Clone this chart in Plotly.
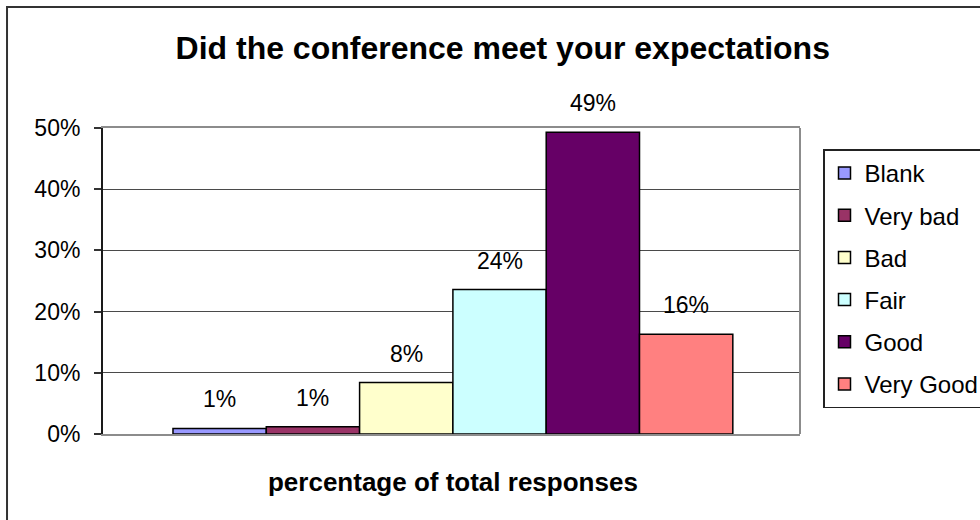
import plotly.graph_objects as go

# Survey results: share of total responses per rating
ratings = ["Blank", "Very bad", "Bad", "Fair", "Good", "Very Good"]
shares = [0.009, 0.012, 0.084, 0.236, 0.493, 0.163]
colors = ["#9999FF", "#993366", "#FFFFCC", "#CCFFFF", "#660066", "#FF8080"]
category = "percentage of total responses"
y_ticks = [0.0, 0.1, 0.2, 0.3, 0.4, 0.5]

FONT = "Liberation Sans, Arial, sans-serif"

fig = go.Figure()
for i, (name, val, col) in enumerate(zip(ratings, shares, colors)):
    fig.add_trace(go.Bar(
        x=[i], y=[val], width=1, name=name, legendgroup=name,
        marker=dict(color=col, line=dict(color="#000000", width=1.5)),
        hoverinfo="name+y",
    ))
    fig.add_annotation(
        x=i, y=val, xref="x", yref="y", text=f"{val:.0%}",
        showarrow=False, yshift=29, yanchor="middle",
        font=dict(family=FONT, size=23, color="#000000"),
    )

# plot-area right edge and outer chart frame
fig.add_shape(type="line", xref="paper", yref="paper", x0=1, x1=1, y0=0, y1=1,
              line=dict(color="#8c8c8c", width=2))
fig.add_shape(type="rect", xref="paper", yref="paper",
              x0=-0.1377, x1=1.6, y0=-0.6, y1=1.3954,
              line=dict(color="#333333", width=2), layer="below")

fig.update_layout(
    width=980, height=520,
    margin=dict(l=103, r=180, t=128, b=86, autoexpand=False),
    paper_bgcolor="#FFFFFF", plot_bgcolor="#FFFFFF",
    barmode="overlay",
    showlegend=True,
    title=dict(text="<b>Did the conference meet your expectations</b>",
               font=dict(family=FONT, size=32, color="#000000"),
               x=0.513, xref="container", xanchor="center",
               y=1 - 48 / 520, yref="container", yanchor="middle"),
    legend=dict(x=1.033, xanchor="left", y=0.93, yanchor="top",
                bgcolor="#FFFFFF", bordercolor="#222222", borderwidth=1.5,
                font=dict(family=FONT, size=24, color="#000000"),
                tracegroupgap=8, itemwidth=30, traceorder="grouped"),
    xaxis=dict(range=[-1.25, 6.22], tickvals=[2.5], ticktext=[f"<b>{category}</b>"],
               ticks="", showgrid=False, zeroline=False,
               showline=True, mirror=True, linecolor="#8c8c8c", linewidth=2,
               tickfont=dict(family=FONT, size=26, color="#000000"),
               ticklabelstandoff=24, fixedrange=True),
    yaxis=dict(range=[0, 0.5], tickvals=y_ticks, tickformat=".0%",
               ticks="outside", ticklen=7, tickcolor="#333333", tickwidth=1.5,
               showgrid=True, gridcolor="#4a4a4a", gridwidth=1,
               zeroline=False, showline=True, linecolor="#1a1a1a", linewidth=2,
               tickfont=dict(family=FONT, size=23, color="#000000"),
               ticklabelstandoff=9, fixedrange=True),
)

fig.write_html("out.html")
